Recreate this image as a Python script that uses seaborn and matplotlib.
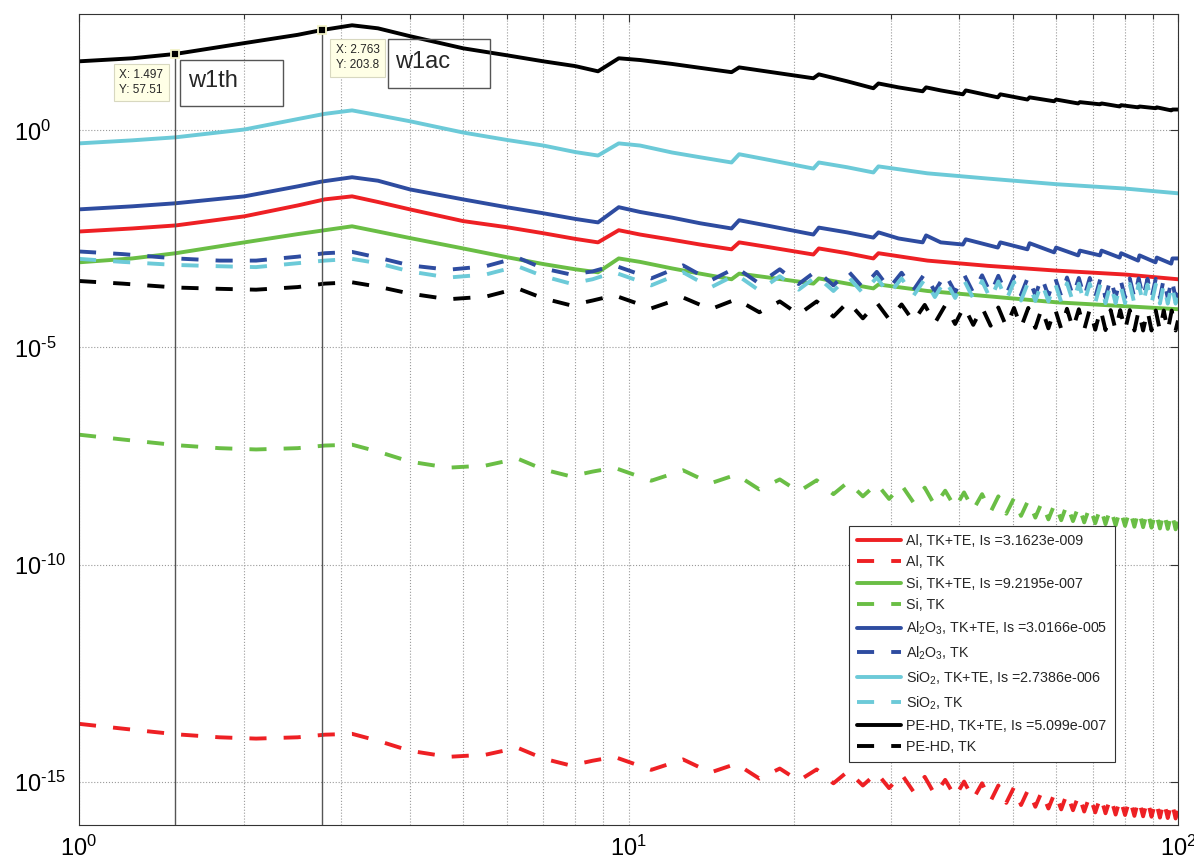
import numpy as np
import pandas as pd
import seaborn as sns
import matplotlib.pyplot as plt
from matplotlib.ticker import FixedLocator, LogLocator, NullLocator, NullFormatter, FuncFormatter
from matplotlib.patches import Rectangle

# x samples (same log axis for every curve)
x_full = [1, 1.25, 1.497, 2, 2.5, 2.763, 3.14, 3.5, 4, 5,
          6, 7, 8, 8.8, 9.6, 10.5, 12, 13.5, 15.4, 15.9,
          18, 21.7, 22.2, 25, 27.9, 28.5, 31, 34.3, 34.8, 37,
          40.6, 41.1, 47, 47.5, 53.2, 53.7, 59.5, 60, 65.8, 66.3,
          72.1, 72.6, 78.3, 78.8, 84.6, 85.1, 91, 91.5, 97.2, 97.7,
          100]
x_short = [1, 1.25, 1.5, 2, 2.5, 2.8, 3.14, 3.5, 4, 5,
           6, 7, 8, 8.8, 9.6, 10.5, 12, 13.5, 15.4, 15.9,
           18, 21.7, 22.2, 25, 27.9, 28.5, 35, 45, 60, 80,
           100]
x_tk = [1, 1.2, 1.5, 1.8, 2.1, 2.5, 2.8, 3.14, 3.5, 4.0,
        4.7, 5.5, 6.28, 7.0, 7.85, 8.6, 9.42, 11.0, 12.57, 14.1,
        15.71, 17.3, 18.85, 20.4, 22.0, 23.6, 25.1, 26.7, 28.3, 29.8,
        31.4, 33.0, 34.6, 36.1, 37.7, 39.3, 40.8, 42.4, 44.0, 45.6,
        47.1, 48.7, 50.3, 51.8, 53.4, 55.0, 56.5, 58.1, 59.7, 61.3,
        62.8, 64.4, 66.0, 67.5, 69.1, 70.7, 72.3, 73.8, 75.4, 77.0,
        78.5, 80.1, 81.7, 83.3, 84.8, 86.4, 88.0, 89.5, 91.1, 92.7,
        94.2, 95.8, 97.4, 99.0, 100]

# log10 of the curves
pehd_tkte = [1.59, 1.66, 1.7597, 2.01, 2.20, 2.3092, 2.42, 2.35, 2.17, 1.89,
             1.73, 1.59, 1.48, 1.36, 1.66, 1.62, 1.53, 1.44, 1.34, 1.45,
             1.35, 1.20, 1.29, 1.13, 0.97, 1.08, 0.99, 0.90, 0.99, 0.92,
             0.83, 0.92, 0.76, 0.83, 0.71, 0.76, 0.67, 0.71, 0.62, 0.65,
             0.60, 0.62, 0.55, 0.58, 0.53, 0.55, 0.51, 0.53, 0.46, 0.48,
             0.48]
al2o3_tkte = [-1.82, -1.75, -1.68, -1.52, -1.29, -1.18, -1.08, -1.16, -1.36, -1.59,
              -1.77, -1.91, -2.04, -2.12, -1.77, -1.88, -2.01, -2.14, -2.26, -2.07,
              -2.20, -2.40, -2.24, -2.35, -2.47, -2.35, -2.49, -2.58, -2.42, -2.58,
              -2.63, -2.51, -2.70, -2.58, -2.74, -2.60, -2.81, -2.70, -2.88, -2.77,
              -2.88, -2.77, -2.93, -2.83, -3.00, -2.88, -3.04, -2.93, -3.07, -2.95,
              -2.95]
sio2_tkte = [-0.30, -0.23, -0.16, 0.02, 0.26, 0.38, 0.46, 0.35, 0.21, -0.05,
             -0.22, -0.35, -0.50, -0.58, -0.30, -0.35, -0.51, -0.62, -0.74, -0.55,
             -0.68, -0.88, -0.74, -0.85, -0.97, -0.83, -0.99, -1.11, -1.24, -1.34,
             -1.45]
al_tkte = [-2.33, -2.26, -2.19, -1.98, -1.73, -1.59, -1.52, -1.65, -1.82, -2.09,
           -2.23, -2.37, -2.50, -2.58, -2.30, -2.40, -2.52, -2.63, -2.74, -2.58,
           -2.69, -2.86, -2.72, -2.83, -2.95, -2.83, -3.00, -3.12, -3.23, -3.32,
           -3.43]
si_tkte = [-3.04, -2.95, -2.83, -2.58, -2.39, -2.30, -2.21, -2.33, -2.48, -2.72,
           -2.92, -3.08, -3.20, -3.27, -2.95, -3.03, -3.18, -3.30, -3.43, -3.30,
           -3.39, -3.53, -3.41, -3.53, -3.64, -3.55, -3.70, -3.82, -3.96, -4.05,
           -4.12]

al2o3_tk = [-2.79, -2.85, -2.95, -3.00, -3.00, -2.91, -2.83, -2.80, -2.93, -3.11,
            -3.21, -3.13, -2.93, -3.18, -3.32, -3.25, -3.11, -3.41, -3.11, -3.46,
            -3.16, -3.53, -3.20, -3.54, -3.23, -3.57, -3.24, -3.62, -3.26, -3.64,
            -3.28, -3.68, -3.30, -3.71, -3.31, -3.73, -3.32, -3.74, -3.34, -3.76,
            -3.35, -3.78, -3.36, -3.79, -3.36, -3.80, -3.38, -3.81, -3.38, -3.82,
            -3.39, -3.82, -3.40, -3.84, -3.40, -3.84, -3.40, -3.85, -3.41, -3.85,
            -3.41, -3.85, -3.41, -3.86, -3.41, -3.86, -3.42, -3.86, -3.42, -3.86,
            -3.42, -3.86, -3.42, -3.86, -3.64]
sio2_tk = [-2.96, -3.03, -3.10, -3.13, -3.15, -3.06, -3.00, -2.96, -3.06, -3.25,
           -3.39, -3.32, -3.13, -3.36, -3.53, -3.43, -3.27, -3.57, -3.27, -3.62,
           -3.32, -3.69, -3.36, -3.67, -3.36, -3.70, -3.37, -3.75, -3.39, -3.77,
           -3.41, -3.81, -3.43, -3.84, -3.44, -3.86, -3.45, -3.87, -3.47, -3.89,
           -3.48, -3.91, -3.49, -3.92, -3.49, -3.93, -3.51, -3.94, -3.51, -3.95,
           -3.52, -3.95, -3.53, -3.97, -3.53, -3.97, -3.53, -3.98, -3.54, -3.98,
           -3.54, -3.98, -3.54, -3.99, -3.54, -3.99, -3.55, -3.99, -3.55, -3.99,
           -3.55, -3.99, -3.55, -3.99, -3.77]
pehd_tk = [-3.47, -3.53, -3.62, -3.65, -3.67, -3.61, -3.53, -3.50, -3.60, -3.76,
           -3.89, -3.83, -3.64, -3.87, -4.03, -3.92, -3.80, -4.10, -3.85, -4.12,
           -3.89, -4.19, -3.94, -4.24, -3.94, -4.29, -3.95, -4.33, -3.97, -4.35,
           -4.01, -4.40, -4.02, -4.44, -4.03, -4.46, -4.06, -4.48, -4.08, -4.50,
           -4.08, -4.52, -4.09, -4.54, -4.09, -4.55, -4.10, -4.56, -4.10, -4.57,
           -4.11, -4.57, -4.12, -4.59, -4.12, -4.59, -4.12, -4.60, -4.14, -4.60,
           -4.14, -4.60, -4.14, -4.61, -4.15, -4.61, -4.15, -4.61, -4.15, -4.61,
           -4.15, -4.61, -4.15, -4.61, -4.38]
si_tk = [-7.01, -7.12, -7.25, -7.32, -7.35, -7.32, -7.26, -7.24, -7.40, -7.63,
         -7.77, -7.72, -7.56, -7.81, -7.97, -7.86, -7.77, -8.07, -7.83, -8.13,
         -7.93, -8.27, -8.04, -8.32, -8.06, -8.38, -8.10, -8.43, -8.14, -8.49,
         -8.17, -8.57, -8.23, -8.64, -8.30, -8.69, -8.34, -8.74, -8.38, -8.79,
         -8.43, -8.83, -8.47, -8.88, -8.52, -8.92, -8.57, -8.96, -8.59, -8.98,
         -8.61, -9.00, -8.64, -9.03, -8.66, -9.05, -8.68, -9.07, -8.70, -9.10,
         -8.73, -9.11, -8.74, -9.13, -8.75, -9.14, -8.76, -9.15, -8.78, -9.17,
         -8.79, -9.18, -8.80, -9.19, -9.00]
al_tk = [-13.67, -13.78, -13.91, -13.98, -14.01, -13.98, -13.92, -13.90, -14.06, -14.29,
         -14.43, -14.38, -14.22, -14.47, -14.63, -14.52, -14.43, -14.73, -14.49, -14.79,
         -14.59, -14.93, -14.70, -14.98, -14.72, -15.04, -14.76, -15.09, -14.80, -15.15,
         -14.83, -15.23, -14.89, -15.30, -14.96, -15.35, -15.00, -15.40, -15.04, -15.45,
         -15.09, -15.49, -15.13, -15.54, -15.18, -15.58, -15.23, -15.62, -15.25, -15.64,
         -15.27, -15.66, -15.30, -15.69, -15.32, -15.71, -15.34, -15.73, -15.36, -15.76,
         -15.39, -15.77, -15.40, -15.79, -15.41, -15.80, -15.42, -15.81, -15.44, -15.83,
         -15.45, -15.84, -15.46, -15.85, -15.66]

# data cursor points
tip_x = [1.497, 2.763]
tip_y = [57.51, 203.8]
tip_names = ["w1th", "w1ac"]

labels = ["Al, TK+TE, Is =3.1623e-009", "Al, TK",
          "Si, TK+TE, Is =9.2195e-007", "Si, TK",
          "Al$_2$O$_3$, TK+TE, Is =3.0166e-005", "Al$_2$O$_3$, TK",
          "SiO$_2$, TK+TE, Is =2.7386e-006", "SiO$_2$, TK",
          "PE-HD, TK+TE, Is =5.099e-007", "PE-HD, TK"]

RED, GREEN, BLUE, CYAN, BLACK = "#EE2024", "#6ABE45", "#2E4CA0", "#6CCAD8", "#000000"
DASH = (0, (4.4, 4.4))

series = [
    (x_short, al_tkte, RED, "-"), (x_tk, al_tk, RED, DASH),
    (x_short, si_tkte, GREEN, "-"), (x_tk, si_tk, GREEN, DASH),
    (x_full, al2o3_tkte, BLUE, "-"), (x_tk, al2o3_tk, BLUE, DASH),
    (x_short, sio2_tkte, CYAN, "-"), (x_tk, sio2_tk, CYAN, DASH),
    (x_full, pehd_tkte, BLACK, "-"), (x_tk, pehd_tk, BLACK, DASH),
]

sns.set_style("white")
plt.rcParams["font.family"] = ["Liberation Sans", "DejaVu Sans"]
plt.rcParams["mathtext.fontset"] = "custom"
plt.rcParams["mathtext.rm"] = "Liberation Sans"
plt.rcParams["mathtext.it"] = "Liberation Sans:italic"
plt.rcParams["mathtext.bf"] = "Liberation Sans:bold"
plt.rcParams["axes.unicode_minus"] = False

W, H = 1194, 866
fig = plt.figure(figsize=(W / 100, H / 100), dpi=100)
ax = fig.add_axes([79 / W, 1 - 825 / H, (1178 - 79) / W, (825 - 14) / H])
ax.set_xscale("log")
ax.set_yscale("log")

for (xs, ly, col, ls), lab in zip(series, labels):
    df = pd.DataFrame({"x": xs, "y": 10.0 ** np.array(ly)})
    sns.lineplot(data=df, x="x", y="y", ax=ax, color=col, lw=2.8, linestyle=ls,
                 sort=False, estimator=None, legend=False)

curve_lines = list(ax.lines)

# data cursors
ax.vlines(tip_x, 1e-16, tip_y, colors="#555555", lw=1.0, zorder=4)
ax.plot(tip_x, tip_y, "s", ms=6, mfc="k", mec="#F2F2C8", mew=1.3, zorder=6)
tip_offsets = [(-56, -15), (14, -14)]
for xv, yv, off in zip(tip_x, tip_y, tip_offsets):
    ax.annotate(f"X: {xv:g}\nY: {yv:g}", xy=(xv, yv), xytext=off, textcoords="offset pixels",
                ha="left", va="top", fontsize=8.5, linespacing=1.35, zorder=7,
                bbox=dict(boxstyle="square,pad=0.45", fc="#FFFFE6", ec="#D8D8C0", lw=0.8))


def pow10(v, pos):
    # Matlab-style 10^-5 with a short hyphen
    e = int(round(np.log10(v)))
    s = str(e).replace("-", "\u2010")
    return "$\\mathdefault{10^{" + s + "}}$"


ax.set_xlim(1, 100)
ax.set_ylim(1e-16, 10 ** 2.68)
ax.set_xlabel("")
ax.set_ylabel("")
ax.xaxis.set_major_locator(FixedLocator([1, 10, 100]))
ax.xaxis.set_minor_locator(LogLocator(base=10, subs=range(2, 10)))
ax.xaxis.set_minor_formatter(NullFormatter())
ax.xaxis.set_major_formatter(FuncFormatter(pow10))
ax.yaxis.set_major_locator(FixedLocator([1e-15, 1e-10, 1e-5, 1e0]))
ax.yaxis.set_minor_locator(NullLocator())
ax.yaxis.set_major_formatter(FuncFormatter(pow10))

ax.grid(True, which="major", axis="both", ls=":", color="#9A9A9A", lw=0.8)
ax.grid(True, which="minor", axis="x", ls=":", color="#9A9A9A", lw=0.8)
ax.set_axisbelow(True)
ax.tick_params(which="both", direction="in", top=True, right=True, colors="#333333", width=0.8)
ax.tick_params(which="major", length=6)
ax.tick_params(which="minor", length=3.5)
ax.tick_params(axis="x", labelsize=17, pad=8, labelcolor="black")
ax.tick_params(axis="y", labelsize=17, pad=47, labelcolor="black")
for t in ax.yaxis.get_major_ticks():
    t.label1.set_horizontalalignment("left")
for s in ax.spines.values():
    s.set_color("#333333")
    s.set_linewidth(0.8)

leg = ax.legend(handles=curve_lines, labels=labels, loc="upper left",
                bbox_to_anchor=(0.7007, 0.3687), borderaxespad=0, fontsize=10.3,
                handlelength=3.1, handletextpad=0.35, borderpad=0.55, labelspacing=0.52,
                frameon=True, fancybox=False, edgecolor="#333333", framealpha=1)
leg.get_frame().set_linewidth(0.8)
leg.set_zorder(8)

# text boxes for the two cursors
boxes = [(180, 60, 283, 106, 188, 81), (388, 39, 490, 88, 395, 62)]
for name, (x0, y0, x1, y1, tx, ty) in zip(tip_names, boxes):
    fig.add_artist(Rectangle((x0 / W, 1 - y1 / H), (x1 - x0) / W, (y1 - y0) / H,
                             transform=fig.transFigure, fill=False, ec="#555555", lw=1.0, zorder=5))
    fig.text(tx / W, 1 - ty / H, name, fontsize=17, va="center", ha="left", zorder=6)

fig.savefig("out.png", dpi=100)
